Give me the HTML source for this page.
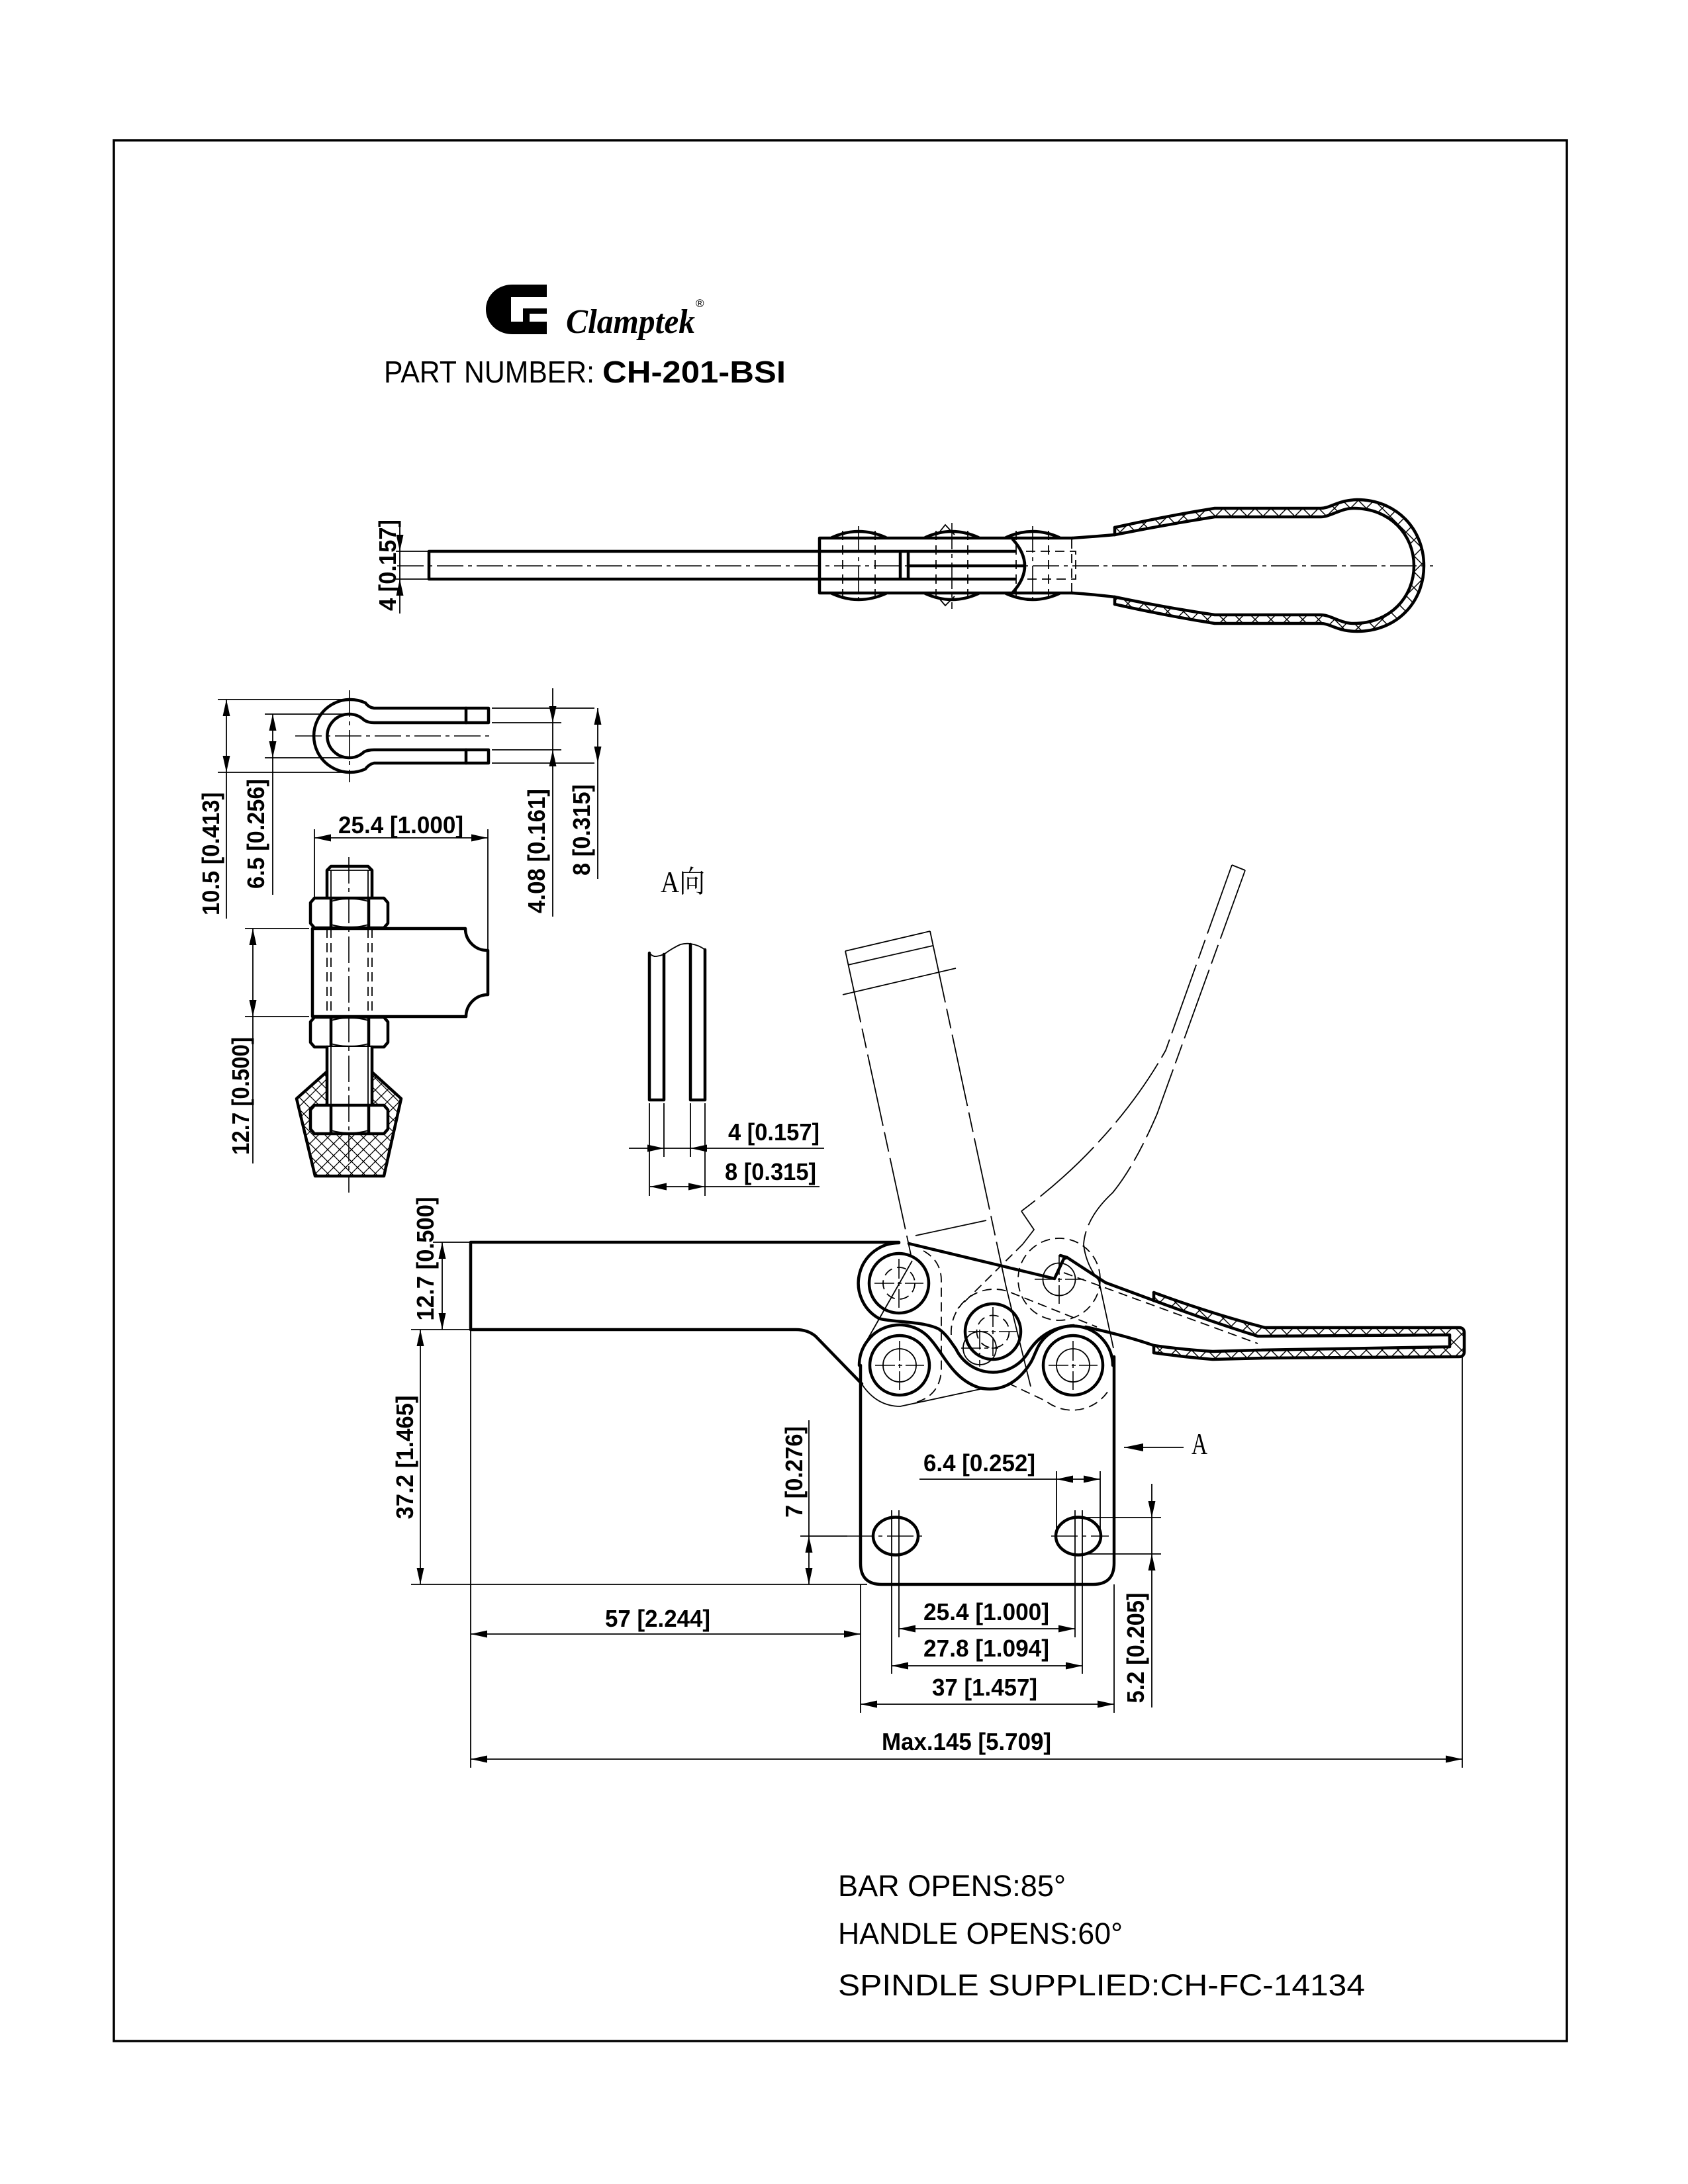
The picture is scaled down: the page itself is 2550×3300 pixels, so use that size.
<!DOCTYPE html>
<html><head><meta charset="utf-8"><style>
html,body{margin:0;padding:0;background:#fff;}
svg{display:block}
.k{stroke:#000;stroke-width:4.5;fill:none;stroke-linejoin:round;stroke-linecap:round}
.t{stroke:#000;stroke-width:1.8;fill:none}
.d{stroke:#000;stroke-width:1.8;fill:none;stroke-dasharray:14 8}
.c{stroke:#000;stroke-width:1.6;fill:none;stroke-dasharray:40 7 6 7}
.x{stroke:#000;stroke-width:1.6;fill:none;stroke-dasharray:30 5 6 5}
.p{stroke:#000;stroke-width:1.8;fill:none;stroke-dasharray:110 10 30 10}
.w{fill:#fff}
.dim{font-family:"Liberation Sans",Arial,sans-serif;font-weight:bold;font-size:36px;fill:#000}
.ar{fill:#000;stroke:none}
</style></head><body>
<svg width="2550" height="3300" viewBox="0 0 2550 3300" xmlns="http://www.w3.org/2000/svg">
<defs>
<pattern id="hx" width="24" height="24" patternUnits="userSpaceOnUse"><path d="M0,0 L24,24 M24,0 L0,24" stroke="#000" stroke-width="1.5"/></pattern>
<pattern id="hr" width="18" height="18" patternUnits="userSpaceOnUse"><path d="M0,0 L18,18 M18,0 L0,18" stroke="#000" stroke-width="1.3"/></pattern>
</defs>
<rect width="2550" height="3300" fill="#fff"/>
<rect x="172" y="212" width="2195" height="2872" fill="none" stroke="#000" stroke-width="3.5"/>

<!-- LOGO -->
<path d="M826,430 L774,430 C751,430 734,447 734,467.5 C734,488 751,505 774,505 L826,505 L826,486 L800,486 L800,474 L826,474 L826,466 L790,466 L790,486 L772,486 L772,449 L826,449 Z" fill="#000"/>
<text x="855" y="503" font-family="Liberation Serif,serif" font-style="italic" font-weight="bold" font-size="52" textLength="195" lengthAdjust="spacingAndGlyphs">Clamptek</text>
<text x="1051" y="464" font-family="Liberation Sans,sans-serif" font-size="17">®</text>
<text x="580" y="578" font-family="Liberation Sans,sans-serif" font-size="46" textLength="318" lengthAdjust="spacingAndGlyphs">PART NUMBER:</text>
<text x="910" y="578" font-family="Liberation Sans,sans-serif" font-weight="bold" font-size="46" textLength="277" lengthAdjust="spacingAndGlyphs">CH-201-BSI</text>

<!-- TOP VIEW -->
<path d="M1684,797 Q1760,780 1835,768 L1995,768 C2010,768 2020,756 2050,755 C2110,755 2151,800 2151,855 C2151,910 2110,954 2050,954 C2020,954 2010,942 1995,942 L1835,942 Q1760,930 1684,913 Z" fill="url(#hx)"/>
<path d="M1684,808 Q1760,793 1835,781 L1995,781 C2010,781 2025,768 2045,768 C2100,768 2136,808 2136,855 C2136,902 2100,942 2045,942 C2025,942 2010,929 1995,929 L1835,929 Q1760,918 1684,902 Z" fill="#fff"/>
<path class="k" d="M1684,797 Q1760,780 1835,768 L1995,768 C2010,768 2020,756 2050,755 C2110,755 2151,800 2151,855 C2151,910 2110,954 2050,954 C2020,954 2010,942 1995,942 L1835,942 Q1760,930 1684,913"/>
<path class="k" d="M1684,808 Q1760,793 1835,781 L1995,781 C2010,781 2025,768 2045,768 C2100,768 2136,808 2136,855 C2136,902 2100,942 2045,942 C2025,942 2010,929 1995,929 L1835,929 Q1760,918 1684,902"/>
<path class="k" d="M1684,797 L1684,808 M1684,902 L1684,913"/>
<path class="k" d="M1238,833 L648,833 L648,875 L1533,875 M1238,833 L1533,833"/>
<path class="k" d="M1620,813 L1238,813 L1238,896 L1620,896"/>
<path class="k" d="M1530,815 Q1566,855 1530,895"/>
<path class="k" d="M1360,836 L1360,874 M1372,836 L1372,874 M1372,855 L1545,855"/>
<path class="k" d="M1620,813 Q1650,811 1684,808 M1620,896 Q1650,898 1684,902"/>
<path class="k" d="M1257,812 Q1297,794 1338,812 M1398,812 Q1438,794 1478,812 M1520,812 Q1560,794 1600,812"/>
<path class="k" d="M1257,897 Q1297,915 1338,897 M1398,897 Q1438,915 1478,897 M1520,897 Q1560,915 1600,897"/>
<path class="t" d="M1416,808 L1428,793 L1442,808 M1416,901 L1428,915 L1442,901"/>
<path class="d" d="M1273,802 L1273,908 M1322,802 L1322,908 M1414,802 L1414,908 M1462,802 L1462,908 M1535,802 L1535,908 M1584,802 L1584,908 M1619,815 L1619,895"/>
<path class="c" d="M1297,795 L1297,915 M1438,790 L1438,920 M1560,795 L1560,915"/>
<path class="d" d="M1550,833 L1625,833 L1625,875 L1550,875"/>
<path class="c" d="M600,855 L2165,855"/>
<path class="t" d="M598,833 L648,833 M598,875 L648,875 M604,788 L604,927"/>
<polygon class="ar" points="604,833 598.5,808 609.5,808"/>
<polygon class="ar" points="604,875 598.5,900 609.5,900"/>
<text class="dim" transform="translate(598,854) rotate(-90)" text-anchor="middle" textLength="138" lengthAdjust="spacingAndGlyphs">4 [0.157]</text>

<!-- EYE END -->
<path class="k" style="fill:#fff" d="M738,1070 L565,1070 Q557,1069 552,1062 A55,55 0 1 0 552,1162 Q557,1155 565,1153 L738,1153 L738,1133 L565,1133 Q556,1133 550,1136 A33,33 0 1 1 550,1088 Q556,1092 565,1092 L738,1092 Z"/>
<path class="k" d="M704,1070 L704,1092 M704,1133 L704,1153"/>
<path class="c" d="M446,1112 L743,1112 M528,1043 L528,1182"/>
<path class="t" d="M329,1057 L528,1057 M329,1167 L528,1167 M342,1057 L342,1388 M400,1079 L528,1079 M400,1145 L528,1145 M412,1079 L412,1352 M743,1092 L848,1092 M743,1133 L848,1133 M835,1040 L835,1385 M743,1070 L898,1070 M743,1153 L898,1153 M903,1070 L903,1328 M475,1253 L475,1357 M737,1253 L737,1435 M475,1266 L737,1266"/>
<polygon class="ar" points="342,1057 336.5,1082 347.5,1082"/>
<polygon class="ar" points="342,1167 336.5,1142 347.5,1142"/>
<polygon class="ar" points="412,1079 406.5,1104 417.5,1104"/>
<polygon class="ar" points="412,1145 406.5,1120 417.5,1120"/>
<polygon class="ar" points="835,1092 829.5,1067 840.5,1067"/>
<polygon class="ar" points="835,1133 829.5,1158 840.5,1158"/>
<polygon class="ar" points="903,1070 897.5,1095 908.5,1095"/>
<polygon class="ar" points="903,1153 897.5,1128 908.5,1128"/>
<polygon class="ar" points="475,1266 500,1260.5 500,1271.5"/>
<polygon class="ar" points="737,1266 712,1260.5 712,1271.5"/>
<text class="dim" transform="translate(331,1290) rotate(-90)" text-anchor="middle" textLength="186" lengthAdjust="spacingAndGlyphs">10.5 [0.413]</text>
<text class="dim" transform="translate(399,1260) rotate(-90)" text-anchor="middle" textLength="166" lengthAdjust="spacingAndGlyphs">6.5 [0.256]</text>
<text class="dim" transform="translate(823,1286) rotate(-90)" text-anchor="middle" textLength="188" lengthAdjust="spacingAndGlyphs">4.08 [0.161]</text>
<text class="dim" transform="translate(891,1254) rotate(-90)" text-anchor="middle" textLength="138" lengthAdjust="spacingAndGlyphs">8 [0.315]</text>
<text class="dim" x="511" y="1259" textLength="189" lengthAdjust="spacingAndGlyphs">25.4 [1.000]</text>

<!-- SPINDLE -->
<path class="k" d="M494,1358 L494,1315 L500,1309 L556,1309 L562,1315 L562,1358"/>
<path class="t" d="M494,1315 L562,1315 M500,1315 L500,1358 M556,1315 L556,1358"/>
<path class="k" style="fill:#fff" d="M475,1357 L580,1357 L586,1364 L586,1395 L580,1402 L475,1402 L469,1395 L469,1364 Z"/>
<path class="k" d="M500,1359 L500,1400 M557,1359 L557,1400"/>
<path class="t" stroke-width="3" d="M500,1362 Q528,1354 557,1362 M500,1397 Q528,1405 557,1397"/>
<path class="k" style="fill:#fff" d="M472,1403 L703,1403 A33,33 0 0 0 737,1436 L737,1503 A33,33 0 0 0 704,1536 L472,1536 Z"/>
<path class="d" d="M494,1403 L494,1536 M500,1403 L500,1536 M556,1403 L556,1536 M562,1403 L562,1536"/>
<path class="k" style="fill:#fff" d="M475,1537 L580,1537 L586,1544 L586,1575 L580,1582 L475,1582 L469,1575 L469,1544 Z"/>
<path class="k" d="M500,1539 L500,1580 M557,1539 L557,1580"/>
<path class="t" stroke-width="3" d="M500,1542 Q528,1534 557,1542 M500,1577 Q528,1585 557,1577"/>
<path d="M493,1620 L448,1660 L476,1777 L580,1777 L606,1660 L562,1620 Z" fill="url(#hr)"/>
<path class="k" d="M493,1620 L448,1660 L476,1777 L580,1777 L606,1660 L562,1620"/>
<rect x="494" y="1582" width="68" height="90" fill="#fff"/>
<path class="k" d="M494,1582 L494,1670 M562,1582 L562,1670"/>
<path class="t" d="M500,1582 L500,1670 M556,1582 L556,1670"/>
<path class="k" style="fill:#fff" d="M475,1670 L580,1670 L586,1677 L586,1706 L580,1713 L475,1713 L469,1706 L469,1677 Z"/>
<path class="k" d="M500,1672 L500,1711 M557,1672 L557,1711"/>
<path class="t" stroke-width="3" d="M500,1708 Q528,1716 557,1708"/>
<path class="c" d="M527,1295 L527,1802"/>
<path class="t" d="M370,1403 L467,1403 M370,1536 L467,1536 M382,1403 L382,1758"/>
<polygon class="ar" points="382,1403 376.5,1428 387.5,1428"/>
<polygon class="ar" points="382,1536 376.5,1511 387.5,1511"/>
<text class="dim" transform="translate(376,1656) rotate(-90)" text-anchor="middle" textLength="178" lengthAdjust="spacingAndGlyphs">12.7 [0.500]</text>

<!-- A VIEW -->
<text x="998" y="1348" font-family="Liberation Serif,'Noto Serif CJK SC',serif" font-size="46" textLength="67" lengthAdjust="spacingAndGlyphs">A向</text>
<path class="k" d="M981,1440 L981,1662 L1003,1662 L1003,1442"/>
<path class="k" d="M1043,1427 L1043,1662 L1065,1662 L1065,1435"/>
<path class="t" stroke-width="2.5" d="M981,1440 Q986,1446 992,1445 Q998,1444 1003,1442 Q1015,1433 1028,1427 Q1036,1425 1043,1426 Q1056,1428 1065,1435"/>
<path class="t" d="M981,1667 L981,1807 M1065,1667 L1065,1807 M1003,1667 L1003,1748 M1043,1667 L1043,1748 M950,1735 L1245,1735 M982,1793 L1238,1793"/>
<polygon class="ar" points="1003,1735 978,1729.5 978,1740.5"/>
<polygon class="ar" points="1043,1735 1068,1729.5 1068,1740.5"/>
<polygon class="ar" points="982,1793 1007,1787.5 1007,1798.5"/>
<polygon class="ar" points="1065,1793 1040,1787.5 1040,1798.5"/>
<text class="dim" x="1100" y="1723" textLength="138" lengthAdjust="spacingAndGlyphs">4 [0.157]</text>
<text class="dim" x="1095" y="1783" textLength="138" lengthAdjust="spacingAndGlyphs">8 [0.315]</text>

<!-- MAIN VIEW: phantom open positions -->
<path class="t" d="M1277,1437 L1405,1407 M1281,1458 L1409,1429 M1273,1503 L1444,1463 M1383,1867 L1490,1844 M1378,1905 L1307,2030 M1520,1945 L1557,2095"/>
<path class="p" d="M1277,1437 L1378,1905 M1405,1407 L1520,1945"/>
<path class="t" d="M1861,1307 L1881,1315"/>
<path class="p" d="M1861,1307 L1761,1587 Q1720,1660 1660,1725 Q1610,1780 1543,1830"/>
<path class="t" d="M1543,1830 L1562,1858 L1545,1880"/>
<path class="d" d="M1545,1880 L1447,1977"/>
<path class="p" d="M1881,1315 L1748,1683 Q1715,1760 1681,1802 Q1640,1840 1637,1880"/>
<path class="t" d="M1637,1880 Q1640,1910 1660,1935 L1682,2037"/>

<!-- hidden / thin link outlines -->
<path class="d" d="M1395,1890 Q1422,1905 1422,1935 L1422,2070 Q1420,2110 1380,2120"/>
<path class="t" d="M1303,2093 Q1325,2125 1360,2125 L1490,2097"/>
<path class="d" d="M1437,2017 A65,65 0 0 1 1527,1953 L1657,2005"/>
<path class="d" d="M1523,2090 L1580,2117 A65,65 0 0 0 1677,2097"/>
<circle class="d" cx="1600" cy="1933" r="62"/>

<!-- bar -->
<path class="k" d="M1358,1877 L711,1877 L711,2009 L1202,2009 Q1220,2009 1232,2019 L1302,2091"/>
<!-- body -->
<path class="k" d="M1300,2063 L1300,2362 Q1300,2394 1332,2394 L1651,2394 Q1683,2394 1683,2362 L1683,2050"/>
<ellipse class="k" cx="1353" cy="2321" rx="34" ry="28.5"/>
<ellipse class="k" cx="1629" cy="2321" rx="34" ry="28.5"/>

<!-- pivots -->
<path class="k" d="M1358,1878 A61,61 0 0 0 1327.5,1992 C1345,1998 1395,1996 1418,2008 C1430,2016 1438,2030 1444,2038 A62,62 0 0 0 1554,2042 C1565,2025 1585,2005 1622,2003"/>
<path class="k" d="M1298,2063 A61,61 0 0 1 1406,2024 C1425,2045 1440,2085 1480,2097 C1515,2105 1540,2085 1555,2062 C1560,2055 1562,2048 1565,2042"/>
<path class="k" d="M1565,2042 A60,60 0 0 1 1681,2063"/>
<circle class="k" cx="1358" cy="1939" r="45"/>
<circle class="d" cx="1358" cy="1939" r="24"/>
<circle class="k" cx="1359" cy="2063" r="45"/>
<circle class="t" cx="1359" cy="2063" r="25"/>
<circle class="k" cx="1500" cy="2012" r="42"/>
<circle class="d" cx="1500" cy="2012" r="24.5"/>
<circle class="t" cx="1480" cy="2037" r="25"/>
<circle class="k" cx="1621" cy="2063" r="45"/>
<circle class="t" cx="1621" cy="2063" r="25"/>
<circle class="t" cx="1600" cy="1933" r="24.5"/>
<path class="x" d="M1321,1939 L1395,1939 M1358,1902 L1358,1976 M1322,2063 L1396,2063 M1359,2026 L1359,2100 M1463,2012 L1537,2012 M1500,1975 L1500,2049 M1452,2037 L1508,2037 M1480,2009 L1480,2065 M1584,2063 L1658,2063 M1621,2026 L1621,2100 M1563,1933 L1637,1933 M1600,1896 L1600,1970"/>

<!-- handle closed -->
<path class="k" d="M1373,1879 L1593,1932 L1607,1902 L1612,1900 L1670,1938 L1743,1965"/>
<path class="k" d="M1602,1897 L1612,1900"/>
<path class="k" d="M1640,2005 Q1700,2018 1743,2033"/>
<path d="M1743,1953 Q1830,1985 1911,2006 L2204,2006 Q2212,2006 2212,2014 L2212,2042 Q2212,2050 2204,2050 L1911,2052 L1832,2054 Q1785,2050 1743,2044 Z" fill="url(#hx)"/>
<path d="M1743,1965 Q1830,1997 1900,2019 L2190,2017 L2190,2035 L1900,2040 L1832,2042 Q1785,2039 1743,2033 Z" fill="#fff"/>
<path class="k" d="M1743,1953 Q1830,1985 1911,2006 L2204,2006 Q2212,2006 2212,2014 L2212,2042 Q2212,2050 2204,2050 L1911,2052 L1832,2054 Q1785,2050 1743,2044"/>
<path class="k" d="M1743,1965 Q1830,1997 1900,2019 L2190,2017 L2190,2035 L1900,2040 L1832,2042 Q1785,2039 1743,2033"/>
<path class="k" d="M1743,1953 L1743,1965 M1743,2033 L1743,2044"/>
<path class="d" d="M1607,1923 L1900,2030"/>

<!-- main dims -->
<path class="c" d="M1280,2321 L1395,2321 M1588,2321 L1675,2321"/>
<path class="t" d="M654,1877 L711,1877 M621,2009 L711,2009 M668,1877 L668,2009 M635,2009 L635,2394 M621,2394 L1310,2394 M1209,2321 L1280,2321 M1222,2146 L1222,2394 M711,2009 L711,2671 M1300,2394 L1300,2588 M1683,2394 L1683,2588 M711,2469 L1300,2469 M1358,2282 L1358,2474 M1624,2282 L1624,2474 M1347,2282 L1347,2529 M1635,2282 L1635,2529 M1358,2461 L1624,2461 M1347,2517 L1635,2517 M1300,2575 L1683,2575 M711,2658 L2209,2658 M2209,2050 L2209,2671 M1389,2235 L1662,2235 M1596,2223 L1596,2321 M1662,2223 L1662,2321 M1639,2293 L1754,2293 M1639,2348 L1754,2348 M1740,2242 L1740,2580 M1698,2187 L1788,2187"/>
<polygon class="ar" points="668,1877 662.5,1902 673.5,1902"/>
<polygon class="ar" points="668,2009 662.5,1984 673.5,1984"/>
<polygon class="ar" points="635,2009 629.5,2034 640.5,2034"/>
<polygon class="ar" points="635,2394 629.5,2369 640.5,2369"/>
<polygon class="ar" points="1222,2321 1216.5,2346 1227.5,2346"/>
<polygon class="ar" points="1222,2394 1216.5,2369 1227.5,2369"/>
<polygon class="ar" points="711,2469 736,2463.5 736,2474.5"/>
<polygon class="ar" points="1300,2469 1275,2463.5 1275,2474.5"/>
<polygon class="ar" points="1358,2461 1383,2455.5 1383,2466.5"/>
<polygon class="ar" points="1624,2461 1599,2455.5 1599,2466.5"/>
<polygon class="ar" points="1347,2517 1372,2511.5 1372,2522.5"/>
<polygon class="ar" points="1635,2517 1610,2511.5 1610,2522.5"/>
<polygon class="ar" points="1300,2575 1325,2569.5 1325,2580.5"/>
<polygon class="ar" points="1683,2575 1658,2569.5 1658,2580.5"/>
<polygon class="ar" points="711,2658 736,2652.5 736,2663.5"/>
<polygon class="ar" points="2209,2658 2184,2652.5 2184,2663.5"/>
<polygon class="ar" points="1596,2235 1621,2229.5 1621,2240.5"/>
<polygon class="ar" points="1662,2235 1637,2229.5 1637,2240.5"/>
<polygon class="ar" points="1740,2293 1734.5,2268 1745.5,2268"/>
<polygon class="ar" points="1740,2348 1734.5,2373 1745.5,2373"/>
<polygon class="ar" points="1698,2187 1727,2181 1727,2193"/>
<text x="1800" y="2197" font-family="Liberation Serif,serif" font-size="46" textLength="24" lengthAdjust="spacingAndGlyphs">A</text>

<text class="dim" transform="translate(655,1902) rotate(-90)" text-anchor="middle" textLength="187" lengthAdjust="spacingAndGlyphs">12.7 [0.500]</text>
<text class="dim" transform="translate(624,2202) rotate(-90)" text-anchor="middle" textLength="187" lengthAdjust="spacingAndGlyphs">37.2 [1.465]</text>
<text class="dim" transform="translate(1212,2224) rotate(-90)" text-anchor="middle" textLength="138" lengthAdjust="spacingAndGlyphs">7 [0.276]</text>
<text class="dim" transform="translate(1728,2490) rotate(-90)" text-anchor="middle" textLength="167" lengthAdjust="spacingAndGlyphs">5.2 [0.205]</text>
<text class="dim" x="914" y="2458" textLength="159" lengthAdjust="spacingAndGlyphs">57 [2.244]</text>
<text class="dim" x="1395" y="2223" textLength="169" lengthAdjust="spacingAndGlyphs">6.4 [0.252]</text>
<text class="dim" x="1395" y="2448" textLength="190" lengthAdjust="spacingAndGlyphs">25.4 [1.000]</text>
<text class="dim" x="1395" y="2503" textLength="190" lengthAdjust="spacingAndGlyphs">27.8 [1.094]</text>
<text class="dim" x="1408" y="2562" textLength="159" lengthAdjust="spacingAndGlyphs">37 [1.457]</text>
<text class="dim" x="1332" y="2644" textLength="256" lengthAdjust="spacingAndGlyphs">Max.145 [5.709]</text>

<!-- NOTES -->
<text x="1266" y="2865" font-family="Liberation Sans,sans-serif" font-size="45" textLength="344" lengthAdjust="spacingAndGlyphs">BAR  OPENS:85°</text>
<text x="1266" y="2937" font-family="Liberation Sans,sans-serif" font-size="45" textLength="430" lengthAdjust="spacingAndGlyphs">HANDLE  OPENS:60°</text>
<text x="1266" y="3015" font-family="Liberation Sans,sans-serif" font-size="45" textLength="796" lengthAdjust="spacingAndGlyphs">SPINDLE  SUPPLIED:CH-FC-14134</text>
</svg>
</body></html>
